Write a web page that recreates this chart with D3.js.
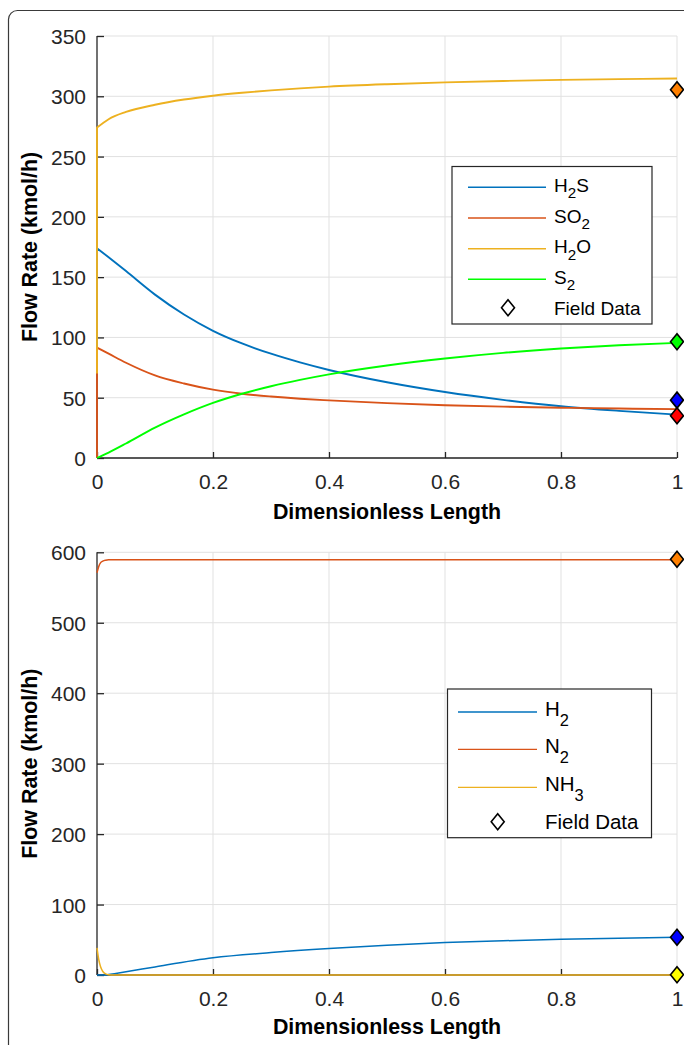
<!DOCTYPE html>
<html>
<head>
<meta charset="utf-8">
<script src="https://cdn.jsdelivr.net/npm/d3@7"></script>
<style>
  html, body { margin: 0; padding: 0; background: #fff; }
  svg { display: block; }
  text { font-family: "Liberation Sans", Arial, Helvetica, sans-serif; }
</style>
</head>
<body>
<svg id="chart" width="684" height="1045"></svg>
<script>
// ---------- DATA: top panel ----------
const topX   = [0, 0, 0.02, 0.05, 0.1, 0.15, 0.2, 0.25, 0.3, 0.35, 0.4, 0.5, 0.6, 0.7, 0.8, 0.9, 1.0];
const topH2S = [0, 174, 166.5, 155, 135.5, 119, 105.5, 95, 86.5, 79.3, 73, 62.8, 54.7, 48.2, 42.9, 39.1, 36];
const topSO2 = [0, 91.5, 86.5, 79, 68.5, 61.8, 56.7, 53.3, 51, 49.2, 47.8, 45.5, 43.8, 42.6, 41.7, 41, 40.5];
const topH2O = [70, 274, 281, 287, 293, 297.3, 300.5, 302.9, 304.9, 306.6, 308, 310, 311.5, 312.7, 313.6, 314.2, 314.7];
const topS2  = [0, 0, 4.5, 12, 25.2, 36.2, 45.7, 53.3, 59.5, 64.8, 69.4, 76.7, 82.5, 87.2, 90.8, 93.5, 95.5];
const topFieldX = [1, 1, 1, 1];
const topFieldY = [305.5, 96.5, 48, 35];
const topFieldColors = ["#FF8000", "#00FF00", "#0000FF", "#FF0000"];
const topYTicks = [0, 50, 100, 150, 200, 250, 300, 350];

// ---------- DATA: bottom panel ----------
const botX   = [0, 0.003, 0.006, 0.01, 0.015, 0.02, 0.03, 0.05, 0.1, 0.2, 0.3, 0.4, 0.5, 0.6, 0.7, 0.8, 0.9, 1.0];
const botH2  = [0, 0, 0, 0, 0, 0.6, 1.9, 4.5, 11.5, 24.4, 31.8, 37.6, 42.3, 46, 48.6, 50.7, 52.3, 53.5];
const botN2  = [571, 580, 585, 587.5, 588.8, 589.3, 589.5, 589.5, 589.5, 589.5, 589.5, 589.5, 589.5, 589.5, 589.5, 589.5, 589.5, 589.5];
const botNH3 = [38.5, 22, 12, 5, 1.5, 0.5, 0.1, 0, 0, 0, 0, 0, 0, 0, 0, 0, 0, 0];
const botFieldX = [1, 1, 1];
const botFieldY = [590, 53.5, 0.5];
const botFieldColors = ["#FF8000", "#0000FF", "#FFFF00"];
const botYTicks = [0, 100, 200, 300, 400, 500, 600];

const xTicks = [0, 0.2, 0.4, 0.6, 0.8, 1];
const xTickLabels = ["0", "0.2", "0.4", "0.6", "0.8", "1"];

const colH2S = "#0072BD", colSO2 = "#D95319", colH2O = "#EDB120", colS2 = "#00FF00";

const svg = d3.select("#chart");

// outer frame
svg.append("rect").attr("x", 8.5).attr("y", 10.5).attr("width", 720).attr("height", 1100)
  .attr("rx", 9).attr("fill", "none").attr("stroke", "#3a3a3a").attr("stroke-width", 1.2);

const TICK_FS = 21, LABEL_FS = 21.4, INK = "#262626";

function drawPanel(opt) {
  const x = d3.scaleLinear().domain([0, 1]).range([97, 677]);
  const y = d3.scaleLinear().domain([0, opt.yMax]).range([opt.y0, opt.y1]);
  const g = svg.append("g");

  // grid
  g.selectAll(null).data(opt.yTicks).enter().append("line")
    .attr("x1", x(0)).attr("x2", x(1)).attr("y1", d => y(d)).attr("y2", d => y(d))
    .attr("stroke", "#e1e1e1").attr("stroke-width", 1);
  g.selectAll(null).data(xTicks.slice(1)).enter().append("line")
    .attr("x1", d => x(d)).attr("x2", d => x(d)).attr("y1", y(0)).attr("y2", y(opt.yMax))
    .attr("stroke", "#e1e1e1").attr("stroke-width", 1);

  // axes via d3 axis (ticks inward)
  const yAxis = d3.axisLeft(y).tickValues(opt.yTicks).tickSize(-7).tickPadding(18).tickFormat(d3.format("d"));
  const xAxis = d3.axisBottom(x).tickValues(xTicks).tickSize(-6).tickPadding(16)
    .tickFormat((d, i) => xTickLabels[i]);
  const ya = g.append("g").attr("transform", `translate(${x(0)},0)`).call(yAxis);
  const xa = g.append("g").attr("transform", `translate(0,${y(0)})`).call(xAxis);
  [ya, xa].forEach(a => {
    a.select(".domain").attr("stroke", INK).attr("stroke-width", 1.3);
    a.selectAll(".tick line").attr("stroke", INK).attr("stroke-width", 1.3);
    a.selectAll(".tick text").attr("fill", INK).attr("font-size", TICK_FS)
      .attr("font-family", "'Liberation Sans', Arial, sans-serif");
  });
  ya.select(".domain").attr("d", `M0,${y(0)}V${y(opt.yMax)}`);
  xa.select(".domain").attr("d", `M${x(0)},0H${x(1)}`);
  ya.selectAll(".tick text").attr("x", -11).attr("dy", "0.36em");
  xa.selectAll(".tick text").attr("y", 16).attr("dy", "0.71em");

  // series
  const lg = d3.line().x(d => x(d[0])).y(d => y(d[1])).curve(d3.curveMonotoneX);
  opt.series.forEach(s => {
    const pts = opt.xs.map((xv, i) => [xv, s.values[i]]);
    let d;
    if (pts[0][0] === pts[1][0]) {
      d = `M${x(pts[0][0])},${y(pts[0][1])}` + lg(pts.slice(1)).replace(/^M/, "L");
    } else {
      d = lg(pts);
    }
    g.append("path").attr("d", d).attr("fill", "none").attr("stroke", s.color)
      .attr("stroke-width", opt.lw).attr("stroke-linejoin", "round");
  });

  // field data diamonds
  const dia = "M0,-8L6.5,0L0,8L-6.5,0Z";
  g.selectAll(null).data(opt.fieldY).enter().append("path")
    .attr("d", dia)
    .attr("transform", (d, i) => `translate(${x(opt.fieldX[i])},${y(d)})`)
    .attr("fill", (d, i) => opt.fieldColors[i]).attr("stroke", "#000").attr("stroke-width", 1.6);

  // axis labels
  g.append("text").attr("x", (x(0) + x(1)) / 2).attr("y", opt.xLabelY)
    .attr("text-anchor", "middle").attr("font-weight", "bold").attr("font-size", LABEL_FS)
    .attr("fill", "#000").text("Dimensionless Length");
  g.append("text").attr("transform", `translate(37,${(y(0) + y(opt.yMax)) / 2}) rotate(-90)`)
    .attr("text-anchor", "middle").attr("font-weight", "bold").attr("font-size", LABEL_FS)
    .attr("fill", "#000").text("Flow Rate (kmol/h)");

  // legend
  const L = opt.legend;
  g.append("rect").attr("x", L.x0).attr("y", L.y0).attr("width", L.x1 - L.x0).attr("height", L.y1 - L.y0)
    .attr("fill", "#fff").attr("stroke", INK).attr("stroke-width", 1.2);
  L.items.forEach((it, i) => {
    const yy = L.rows[i];
    g.append("line").attr("x1", L.lx0).attr("x2", L.lx1).attr("y1", yy).attr("y2", yy)
      .attr("stroke", it.color).attr("stroke-width", opt.legLw);
    const t = g.append("text").attr("x", L.tx).attr("y", yy + L.base).attr("font-size", L.fs).attr("fill", "#000");
    it.parts.forEach(p => {
      if (p.sub) {
        t.append("tspan").attr("dy", L.subDy).attr("font-size", L.fs * 0.8).text(p.t);
      } else {
        t.append("tspan").attr("dy", p.back ? -L.subDy : 0).text(p.t);
      }
    });
  });
  const fy = L.rows[L.items.length];
  g.append("path").attr("d", dia).attr("transform", `translate(${L.dx},${fy})`)
    .attr("fill", "none").attr("stroke", "#000").attr("stroke-width", 1.6);
  g.append("text").attr("x", L.tx).attr("y", fy + 7).attr("font-size", L.fs).attr("fill", "#000").text("Field Data");
}

drawPanel({
  yMax: 350, y0: 458, y1: 36, yTicks: topYTicks, xs: topX, lw: 1.9, legLw: 1.6,
  series: [
    { values: topH2S, color: colH2S },
    { values: topSO2, color: colSO2 },
    { values: topH2O, color: colH2O },
    { values: topS2, color: colS2 }
  ],
  fieldX: topFieldX, fieldY: topFieldY, fieldColors: topFieldColors,
  xLabelY: 519,
  legend: {
    x0: 452, x1: 652, y0: 166.5, y1: 324, lx0: 468, lx1: 546, tx: 554, dx: 508, fs: 19,
    base: 4.5, subDy: 6.5,
    rows: [187.3, 218, 248.7, 279.3, 307.7],
    items: [
      { color: colH2S, parts: [{ t: "H" }, { t: "2", sub: true }, { t: "S", back: true }] },
      { color: colSO2, parts: [{ t: "SO" }, { t: "2", sub: true }] },
      { color: colH2O, parts: [{ t: "H" }, { t: "2", sub: true }, { t: "O", back: true }] },
      { color: colS2, parts: [{ t: "S" }, { t: "2", sub: true }] }
    ]
  }
});

drawPanel({
  yMax: 600, y0: 975, y1: 552.3, yTicks: botYTicks, xs: botX, lw: 1.5, legLw: 1.3,
  series: [
    { values: botH2, color: colH2S },
    { values: botN2, color: colSO2 },
    { values: botNH3, color: colH2O }
  ],
  fieldX: botFieldX, fieldY: botFieldY, fieldColors: botFieldColors,
  xLabelY: 1034,
  legend: {
    x0: 447.5, x1: 651.5, y0: 689, y1: 837.7, lx0: 458, lx1: 537, tx: 545, dx: 497.7, fs: 20.5,
    base: 3.5, subDy: 10,
    rows: [712, 749.3, 787.3, 821.7],
    items: [
      { color: colH2S, parts: [{ t: "H" }, { t: "2", sub: true }] },
      { color: colSO2, parts: [{ t: "N" }, { t: "2", sub: true }] },
      { color: colH2O, parts: [{ t: "NH" }, { t: "3", sub: true }] }
    ]
  }
});
</script>
</body>
</html>
